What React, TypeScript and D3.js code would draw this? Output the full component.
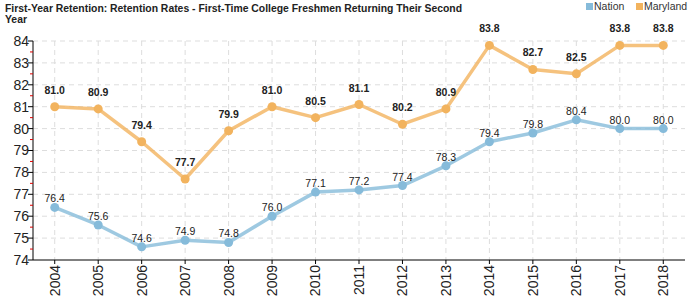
import React from "react";
import * as d3 from "d3";

const years = ["2004","2005","2006","2007","2008","2009","2010","2011","2012","2013","2014","2015","2016","2017","2018"];
const nation = [76.4, 75.6, 74.6, 74.9, 74.8, 76.0, 77.1, 77.2, 77.4, 78.3, 79.4, 79.8, 80.4, 80.0, 80.0];
const maryland = [81.0, 80.9, 79.4, 77.7, 79.9, 81.0, 80.5, 81.1, 80.2, 80.9, 83.8, 82.7, 82.5, 83.8, 83.8];
const yTicks = [74, 75, 76, 77, 78, 79, 80, 81, 82, 83, 84];
const titleLines = ["First-Year Retention: Retention Rates - First-Time College Freshmen Returning Their Second", "Year"];
const seriesNames = ["Nation", "Maryland"];

const W = 700, H = 300;
const left = 33, right = 685, top = 41, bottom = 260;
const NATION_C = "#86bbda";
const MD_C = "#f2b35e";
const FONT = "Arial, 'Liberation Sans', sans-serif";

export default function App() {
  const x = d3.scaleBand<string>().domain(years).range([left, right]);
  const cx = (yr: string) => (x(yr) as number) + x.bandwidth() / 2;
  const y = d3.scaleLinear().domain([74, 84]).range([bottom, top]);
  const line = d3.line<number>().x((_, i) => cx(years[i])).y((v) => y(v));
  const halfTicks = d3.range(74.5, 84, 1);

  const series = [
    { name: seriesNames[0], data: nation, color: NATION_C, bold: false, off: 5 },
    { name: seriesNames[1], data: maryland, color: MD_C, bold: true, off: 13 },
  ];

  return (
    <svg width={W} height={H} style={{ position: "absolute", left: 0, top: 0, fontFamily: FONT }}>
      <rect width={W} height={H} fill="#fff" />
      {titleLines.map((t, i) => (
        <text key={i} x={5} y={12 + i * 10.5} fontSize={10.4} fontWeight="bold" fill="#222">{t}</text>
      ))}
      {/* legend */}
      <rect x={586} y={3} width={7} height={7} fill={NATION_C} />
      <text x={594} y={10} fontSize={10.5} fill="#333">{seriesNames[0]}</text>
      <rect x={636} y={3} width={7} height={7} fill={MD_C} />
      <text x={644} y={10} fontSize={10.5} fill="#333">{seriesNames[1]}</text>

      {/* grid */}
      {yTicks.filter((t) => t > 74).map((t) => (
        <line key={"h" + t} x1={left} x2={right} y1={y(t)} y2={y(t)} stroke="#ddd" strokeDasharray="5,4" />
      ))}
      {years.map((yr) => (
        <line key={"v" + yr} x1={cx(yr)} x2={cx(yr)} y1={top} y2={bottom} stroke="#ddd" strokeDasharray="5,4" />
      ))}

      {/* axes */}
      <line x1={left} x2={left} y1={top} y2={bottom} stroke="#000" />
      <line x1={left} x2={right} y1={bottom} y2={bottom} stroke="#000" />
      {yTicks.map((t) => (
        <g key={"yt" + t}>
          <line x1={left - 5} x2={left} y1={y(t)} y2={y(t)} stroke="#000" />
          <text x={left - 4} y={y(t)} dy="0.35em" textAnchor="end" fontSize={14} fill="#222">{t}</text>
        </g>
      ))}
      {halfTicks.map((t) => (
        <line key={"ht" + t} x1={left - 3} x2={left} y1={y(t)} y2={y(t)} stroke="#d00" />
      ))}
      {years.map((yr) => (
        <g key={"xt" + yr}>
          <line x1={cx(yr)} x2={cx(yr)} y1={bottom} y2={bottom + 4} stroke="#000" />
          <text transform={`translate(${cx(yr)},${bottom + 5}) rotate(-90)`} dy="0.35em" textAnchor="end" fontSize={14} fill="#222">{yr}</text>
        </g>
      ))}

      {/* series */}
      {series.map((s) => (
        <g key={s.name}>
          <path d={line(s.data) || ""} fill="none" stroke={s.color} strokeWidth={3.5} strokeOpacity={0.8} strokeLinejoin="round" />
          {s.data.map((v, i) => (
            <circle key={i} cx={cx(years[i])} cy={y(v)} r={4.5} fill={s.color} />
          ))}
          {s.data.map((v, i) => (
            <text key={"l" + i} x={cx(years[i])} y={y(v) - s.off} textAnchor="middle" fontSize={10.5} fontWeight={s.bold ? "bold" : "normal"} fill="#222">{v.toFixed(1)}</text>
          ))}
        </g>
      ))}
    </svg>
  );
}
